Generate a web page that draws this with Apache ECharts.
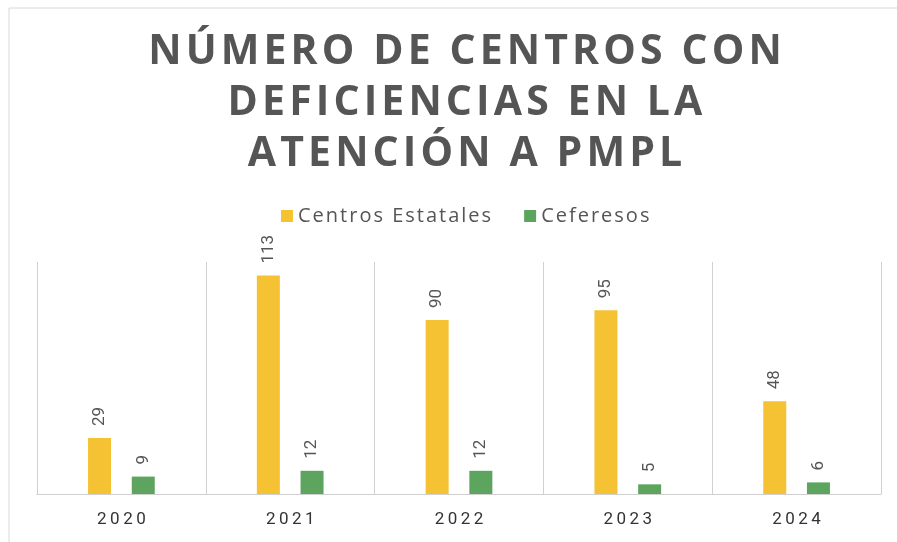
<!DOCTYPE html>
<html>
<head>
<meta charset="utf-8">
<script src="https://cdn.jsdelivr.net/npm/echarts@6/dist/echarts.min.js"></script>
<style>
html, body { margin: 0; padding: 0; background: #fff; }
#chart { width: 897px; height: 542px; }
</style>
</head>
<body>
<div id="chart"></div>
<script>
var years = ['2020', '2021', '2022', '2023', '2024'];
var estatales = [29, 113, 90, 95, 48];
var ceferesos = [9, 12, 12, 5, 6];
var seriesNames = ['Centros Estatales', 'Ceferesos'];
var titleLines = ['NÚMERO DE CENTROS CON', 'DEFICIENCIAS EN LA', 'ATENCIÓN A PMPL'];

// spread letters a little (the original uses a wide typeface)
function spaced(s, sp) {
    return s.split('').join(sp);
}

var myChart = echarts.init(document.getElementById('chart'));

var barLabel = {
    show: true,
    position: 'top',
    rotate: 90,
    align: 'left',
    verticalAlign: 'middle',
    distance: 12,
    color: '#555',
    fontSize: 17,
    fontFamily: 'Roboto'
};

var option = {
    backgroundColor: '#fff',
    animation: false,
    graphic: [{
        type: 'polyline',
        shape: { points: [[9, 542], [9, 8], [897, 8]] },
        style: { stroke: '#d8d8d8', lineWidth: 1, fill: null }
    }],
    title: {
        text: titleLines.map(function (l) { return spaced(l, '\u200A'); }).join('\n'),
        left: 460,
        textAlign: 'center',
        top: 22,
        textStyle: {
            fontFamily: 'Open Sans',
            fontWeight: 'bold',
            fontSize: 41,
            lineHeight: 51,
            color: '#555'
        }
    },
    legend: {
        data: seriesNames,
        top: 201,
        left: 276,
        itemWidth: 12,
        itemHeight: 12,
        itemGap: 33,
        icon: 'rect',
        formatter: function (n) { return spaced(n, '\u200A'); },
        textStyle: { fontFamily: 'Open Sans', fontSize: 20, color: '#555' }
    },
    grid: { left: 37, right: 16, top: 262, bottom: 48 },
    xAxis: {
        type: 'category',
        data: years,
        axisLine: { lineStyle: { color: '#d0d0d0' } },
        axisTick: { show: false },
        splitLine: { show: true, lineStyle: { color: '#d0d0d0' } },
        axisLabel: {
            color: '#333',
            fontSize: 17,
            fontFamily: 'Roboto',
            margin: 17,
            formatter: function (v) { return spaced(v, '\u2009'); }
        }
    },
    yAxis: {
        type: 'value',
        min: 0,
        max: 120,
        show: false,
        splitLine: { show: false }
    },
    series: [{
        name: seriesNames[0],
        type: 'bar',
        data: estatales,
        barWidth: 23,
        barGap: '90%',
        itemStyle: { color: '#F4C232' },
        label: barLabel
    }, {
        name: seriesNames[1],
        type: 'bar',
        data: ceferesos,
        barWidth: 23,
        itemStyle: { color: '#5DA55E' },
        label: barLabel
    }]
};

myChart.setOption(option);
</script>
</body>
</html>
